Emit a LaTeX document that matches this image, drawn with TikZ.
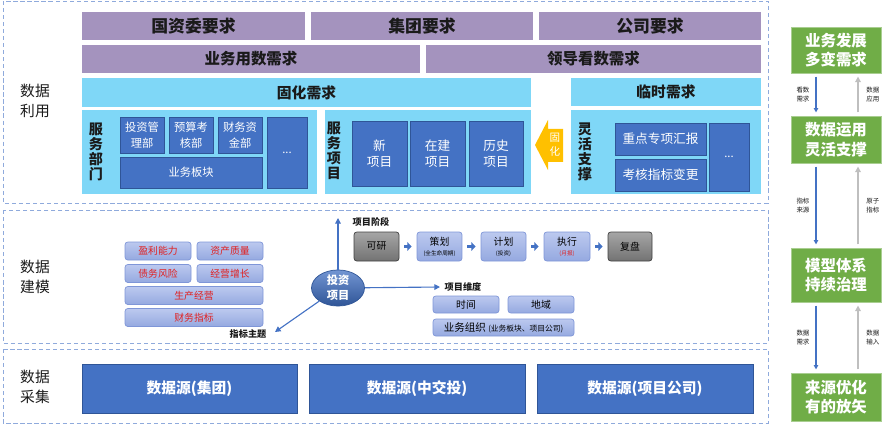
\documentclass[tikz,border=0pt]{standalone}
\usepackage{fontspec}
\setmainfont{Noto Sans CJK SC}
\usepackage{tikz}
\usetikzlibrary{arrows.meta,shapes.geometric}
\definecolor{purp}{HTML}{A493BE}
\definecolor{cyanbg}{HTML}{7FD7F7}
\definecolor{dblue}{HTML}{4472C4}
\definecolor{dborder}{HTML}{2F5597}
\definecolor{gbox}{HTML}{70AD47}
\definecolor{gold}{HTML}{FFC000}
\definecolor{dashblue}{HTML}{8FAADC}
\definecolor{tagtop}{HTML}{BCC9EF}
\definecolor{tagbot}{HTML}{95A9E0}
\definecolor{tagline}{HTML}{7F96D8}
\definecolor{tagred}{HTML}{E02020}
\definecolor{txt}{HTML}{1A1A1A}
\definecolor{arrgray}{HTML}{BFBFBF}
\tikzstyle{frame} = [draw=dashblue, line width=0.7pt, dash pattern=on 3pt off 2pt]
\tikzstyle{lab} = [align=center, text=txt, inner sep=0, font=\fontsize{10.5}{14}\selectfont]
\tikzstyle{purpbox} = [fill=purp, inner sep=0, text=txt, font=\fontsize{11}{11}\selectfont\bfseries]
\tikzstyle{cyanbox} = [fill=cyanbg, inner sep=0, text=txt, font=\fontsize{10.5}{10.5}\selectfont\bfseries]
\tikzstyle{vlab} = [align=center, inner sep=0, text=txt, font=\fontsize{10}{10.6}\selectfont\bfseries]
\tikzstyle{bbox} = [fill=dblue, draw=dborder, line width=0.5pt, inner sep=0, align=center, text=white, font=\fontsize{8}{11.3}\selectfont]
\tikzstyle{tag} = [top color=tagtop, bottom color=tagbot, draw=tagline, line width=0.5pt, rounded corners=2pt, inner sep=0, align=center, font=\fontsize{7}{9}\selectfont]
\tikzstyle{graytag} = [top color=gray!70, bottom color=gray!110, draw=black!75, line width=0.5pt, rounded corners=2pt, inner sep=0, font=\fontsize{7}{9}\selectfont]
\tikzstyle{hint} = [inner sep=0, text=txt, font=\fontsize{6.5}{7}\selectfont\bfseries]
\tikzstyle{barrow} = [-{Triangle[length=4pt,width=4pt]}, draw=dblue, line width=0.8pt]
\tikzstyle{sarrow} = [-{Triangle[length=3pt,width=6pt]}, draw=dblue, line width=2.8pt, shorten <=0.125cm, shorten >=0.125cm]
\tikzstyle{gbx} = [fill=gbox, draw=gbox!60, line width=0.5pt, inner sep=0, align=center, text=white, font=\fontsize{11}{14}\selectfont\bfseries]
\tikzstyle{darr} = [-{Triangle[length=3pt,width=3pt]}, draw=dblue, line width=0.8pt, shorten <=0.08cm, shorten >=0.08cm]
\tikzstyle{uarr} = [-{Triangle[length=4pt,width=4pt]}, draw=arrgray, line width=1.2pt, shorten <=0.08cm, shorten >=0.08cm]
\tikzstyle{sml} = [align=center, inner sep=0, text=txt, font=\fontsize{4.6}{6.5}\selectfont]
\tikzset{sz/.style 2 args={minimum width=#1*0.025cm, minimum height=#2*0.025cm}}

\begin{document}
\begin{tikzpicture}[x=0.025cm, y=-0.025cm]
    \useasboundingbox (0,0) rectangle (886,426);
    \draw[frame] (3,1) rectangle (768,203);
    \draw[frame] (3,210) rectangle (768,343);
    \draw[frame] (3,349) rectangle (768,423);

    \node[lab] at (35,101) (lyy) {数据\\利用};
    \node[lab] at (35,277) (ljm) {数据\\建模};
    \node[lab] at (35,387) (lcj) {数据\\采集};

    \node[purpbox, sz={223}{28}, font=\fontsize{12}{12}\selectfont\bfseries] at (193.5,26) (gzw) {国资委要求};
    \node[purpbox, sz={222}{28}, font=\fontsize{12}{12}\selectfont\bfseries] at (422,26) (jt) {集团要求};
    \node[purpbox, sz={222}{28}, font=\fontsize{12}{12}\selectfont\bfseries] at (650,26) (gs) {公司要求};
    \node[purpbox, sz={338}{28}] at (251,59) (ywys) {业务用数需求};
    \node[purpbox, sz={335}{28}] at (593.5,59) (ldks) {领导看数需求};

    \node[cyanbox, sz={449}{29}] at (306.5,92.5) (ghxq) {固化需求};
    \node[cyanbox, sz={190}{28}] at (666,92) (lsxq) {临时需求};
    \node[cyanbox, sz={235}{84}] at (199.5,152) (fwbm) {};
    \node[cyanbox, sz={206}{84}] at (428,152) (fwxm) {};
    \node[cyanbox, sz={190}{84}] at (666,152) (lhzc) {};

    \node[vlab] at (96,152) (fwbmL) {服\\务\\部\\门};
    \node[vlab] at (334,151) (fwxmL) {服\\务\\项\\目};
    \node[vlab] at (585,152) (lhzcL) {灵\\活\\支\\撑};

    \node[bbox, sz={44}{36}] at (142,135) (tzgl) {投资管\\理部};
    \node[bbox, sz={44}{36}] at (191,135) (yskh) {预算考\\核部};
    \node[bbox, sz={44}{36}] at (240,135) (cwzj) {财务资\\金部};
    \node[bbox, sz={142}{31}] at (191,172.5) (ywbk) {业务板块};
    \node[bbox, sz={40}{71}] at (287,152.5) (dot1) {...};

    \node[bbox, sz={55}{65}, font=\fontsize{9}{11.5}\selectfont] at (379.5,153.5) (xxm) {新\\项目};
    \node[bbox, sz={55}{65}, font=\fontsize{9}{11.5}\selectfont] at (437.5,153.5) (zjxm) {在建\\项目};
    \node[bbox, sz={54}{65}, font=\fontsize{9}{11.5}\selectfont] at (496,153.5) (lsxm) {历史\\项目};

    \node[bbox, sz={91}{32}, font=\fontsize{9}{11}\selectfont] at (660.5,139) (zdzx) {重点专项汇报};
    \node[bbox, sz={91}{32}, font=\fontsize{9}{11}\selectfont] at (660.5,175) (khzb) {考核指标变更};
    \node[bbox, sz={40}{68}] at (729,157) (dot2) {...};

    \fill[gold] (535,145) -- (548,120) -- (548,129) -- (563,129) -- (563,162) -- (548,162) -- (548,170) -- cycle;
    \node[align=center, inner sep=0, text=white, font=\fontsize{7.5}{10}\selectfont] at (555,145) (gh) {固\\化};

    \node[tag, text=tagred, sz={66}{18}] at (158,251) (ylnl) {盈利能力};
    \node[tag, text=tagred, sz={66}{18}] at (230,251) (zczl) {资产质量};
    \node[tag, text=tagred, sz={66}{18}] at (158,273.5) (zwfx) {债务风险};
    \node[tag, text=tagred, sz={66}{18}] at (230,273.5) (jyzz) {经营增长};
    \node[tag, text=tagred, sz={138}{18}] at (194,295.5) (scjy) {生产经营};
    \node[tag, text=tagred, sz={138}{18}] at (194,317.5) (cwzb) {财务指标};

    \node[ellipse, top color=dblue!75!white, bottom color=dborder, draw=dborder, line width=0.5pt, sz={53}{31}, inner sep=0, align=center, text=white, font=\fontsize{8}{10.5}\selectfont\bfseries] at (338,288) (tzxm) {投资\\项目};
    \coordinate (xmjdC) at (338,218);
    \coordinate (xmwdC) at (440,287);
    \coordinate (zbztC) at (275,332);
    \draw[barrow] (tzxm) -- (xmjdC);
    \draw[barrow] (tzxm) -- (xmwdC);
    \draw[barrow] (tzxm) -- (zbztC);
    \node[hint] at (371,222) (xmjd) {项目阶段};
    \node[hint] at (463,287) (xmwd) {项目维度};
    \node[hint] at (248,334) (zbzt) {指标主题};

    \node[graytag, sz={45}{29}] at (376.5,246.5) (ky) {可研};
    \node[tag, sz={45}{29}] at (439.5,246.5) (ch) {策划\\[-2pt]{\fontsize{4}{4}\selectfont(全生命周期)}};
    \node[tag, sz={45}{29}] at (503.5,246.5) (jh) {计划\\[-2pt]{\fontsize{4}{4}\selectfont(投资)}};
    \node[tag, sz={46}{29}] at (567,246.5) (zx) {执行\\[-2pt]{\fontsize{4}{4}\selectfont\color{tagred}(月报)}};
    \node[graytag, sz={44}{29}] at (630,246.5) (fp) {复盘};
    \draw[sarrow] (ky) -- (ch);
    \draw[sarrow] (ch) -- (jh);
    \draw[sarrow] (jh) -- (zx);
    \draw[sarrow] (zx) -- (fp);

    \node[tag, sz={66}{17}] at (466,304.5) (sj) {时间};
    \node[tag, sz={66}{17}] at (541,304.5) (dy) {地域};
    \node[tag, sz={141}{17}, font=\fontsize{7.5}{9}\selectfont] at (503.5,327.5) (ywzz) {业务组织 {\fontsize{5.5}{6}\selectfont(业务板块、项目公司)}};

    \node[bbox, sz={215}{49}, font=\fontsize{10.5}{12}\selectfont\bfseries] at (189.5,388.5) (sy1) {数据源(集团)};
    \node[bbox, sz={216}{49}, font=\fontsize{10.5}{12}\selectfont\bfseries] at (417,388.5) (sy2) {数据源(中交投)};
    \node[bbox, sz={216}{49}, font=\fontsize{10.5}{12}\selectfont\bfseries] at (645,388.5) (sy3) {数据源(项目公司)};

    \node[gbx, sz={90}{46}] at (836,50) (g1) {业务发展\\多变需求};
    \node[gbx, sz={90}{47}] at (836,139.5) (g2) {数据运用\\灵活支撑};
    \node[gbx, sz={90}{54}] at (836,275) (g3) {模型体系\\持续治理};
    \node[gbx, sz={90}{48}] at (836,397) (g4) {来源优化\\有的放矢};

    \draw[darr] ([xshift=-0.5cm]g1.south) -- node[sml, midway, left=0.15cm] (k1) {看数\\需求} ([xshift=-0.5cm]g2.north);
    \draw[uarr] ([xshift=0.55cm]g2.north) -- node[sml, midway, right=0.19cm] (k2) {数据\\应用} ([xshift=0.55cm]g1.south);
    \draw[darr] ([xshift=-0.5cm]g2.south) -- node[sml, midway, left=0.15cm] (k3) {指标\\来源} ([xshift=-0.5cm]g3.north);
    \draw[uarr] ([xshift=0.55cm]g3.north) -- node[sml, midway, right=0.19cm] (k4) {原子\\指标} ([xshift=0.55cm]g2.south);
    \draw[darr] ([xshift=-0.5cm]g3.south) -- node[sml, midway, left=0.15cm] (k5) {数据\\需求} ([xshift=-0.5cm]g4.north);
    \draw[uarr] ([xshift=0.55cm]g4.north) -- node[sml, midway, right=0.19cm] (k6) {数据\\输入} ([xshift=0.55cm]g3.south);
\end{tikzpicture}
\end{document}
